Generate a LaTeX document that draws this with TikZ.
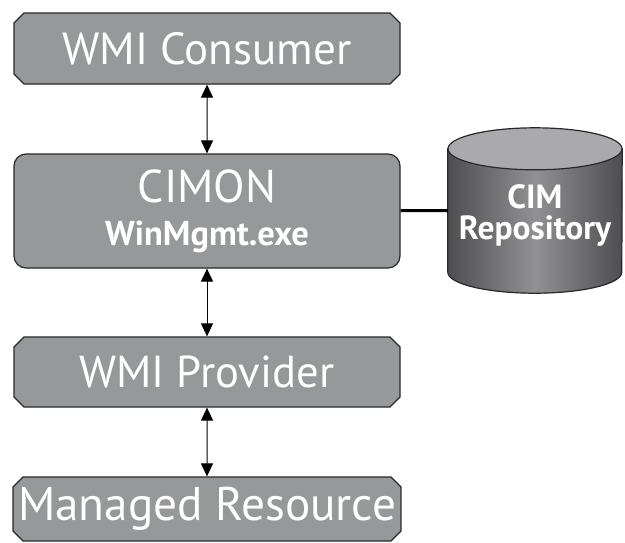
\documentclass[tikz,border=0pt]{standalone}
\usepackage{fontspec}
\setmainfont{PT Sans}
\usetikzlibrary{shapes.misc,arrows.meta}
\definecolor{boxgray}{RGB}{151,152,154}
\definecolor{edgegray}{RGB}{40,40,42}
\definecolor{topgray}{RGB}{170,170,172}
\definecolor{cyldark}{RGB}{78,78,80}
\definecolor{cyllight}{RGB}{145,145,147}
\begin{document}
\begin{tikzpicture}[x=1pt,y=-1pt]
            \tikzstyle{layer}=[chamfered rectangle,chamfered rectangle xsep=5pt,chamfered rectangle ysep=5pt,draw=edgegray,line width=1.2pt,fill=boxgray,text=white,minimum width=386pt,inner sep=0pt]
            \tikzstyle{service}=[rectangle,rounded corners=12pt,draw=edgegray,line width=1.2pt,fill=boxgray,text=white,minimum width=386pt,inner sep=0pt,align=center]
            \tikzstyle{link}=[{Triangle[length=13pt,width=12pt]}-{Triangle[length=13pt,width=12pt]},line width=1pt,black]
                \useasboundingbox (0,0) rectangle (625,542);

                \node[layer,minimum height=71pt,font=\fontsize{45}{45}\selectfont] (consumer) at (207,48.5){WMI Consumer};
                \node[service,minimum height=114pt,font=\fontsize{46}{43}\selectfont] (cimon) at (207,211){CIMON\\\fontsize{34.5}{43}\selectfont\bfseries WinMgmt.exe};
                \node[layer,minimum height=70pt,font=\fontsize{44.7}{44.7}\selectfont] (provider) at (207,372){WMI Provider};
                \node[layer,minimum height=64pt,font=\fontsize{47.2}{47.2}\selectfont] (resource) at (207,509){Managed Resource};

                % repository cylinder
                \node[minimum width=174pt,minimum height=165pt,inner sep=0pt] (repo) at (535,210.5){};
                \filldraw[draw=edgegray,line width=1.2pt,left color=cyldark,right color=cyldark,middle color=cyllight]
                    ([yshift=-21pt]repo.north west) -- ([yshift=21pt]repo.south west)
                    arc[start angle=180,end angle=360,x radius=87pt,y radius=21pt]
                    -- ([yshift=-21pt]repo.north east) -- cycle;
                \filldraw[draw=edgegray,line width=1.2pt,fill=topgray] ([yshift=-21pt]repo.north) ellipse[x radius=87pt,y radius=21pt];
                \node[text=white,align=center,font=\fontsize{33.5}{31}\selectfont\bfseries] (repo-text) at ([yshift=-4.5pt]repo.center){CIM\\Repository};

                \foreach \from/\to in {consumer/cimon, cimon/provider, provider/resource}
                    \draw[link] (\from) -- (\to);
                \draw[line width=3pt,black] (cimon) -- (repo);
        \end{tikzpicture}
\end{document}
